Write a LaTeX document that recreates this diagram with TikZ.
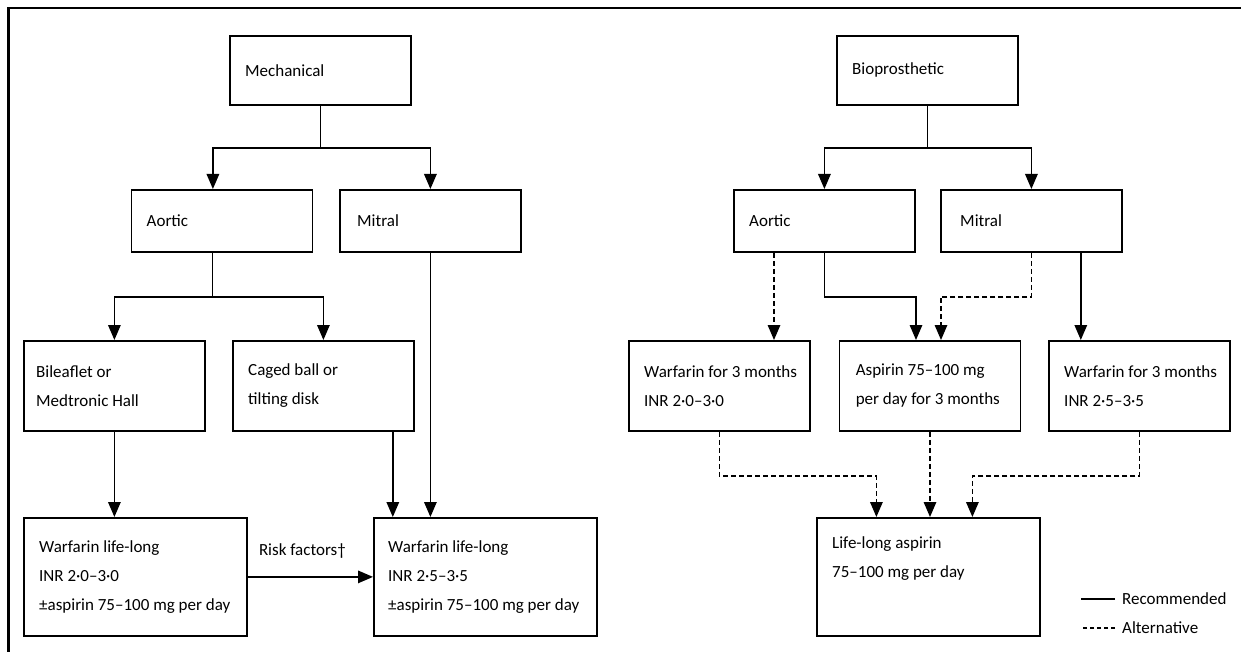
\documentclass[tikz,border=0pt]{standalone}
\usepackage{fontspec}
\setmainfont{Carlito}
\usepackage{tikz}
\usetikzlibrary{arrows.meta}

\begin{document}
\begin{tikzpicture}[x=1pt,y=-1pt,
        box/.style={draw,line width=1.8pt,minimum width=181pt,inner sep=0pt,anchor=north west},
        wbox/.style={box,minimum width=223pt,minimum height=118pt},
        txt/.style={anchor=west,align=left,inner sep=0pt,font=\fontsize{17}{29}\selectfont},
        lbl/.style={inner sep=0pt,font=\fontsize{17}{29}\selectfont},
        line/.style={line width=1.5pt},
        arr/.style={line,-{Triangle[length=15pt,width=12.5pt]}},
        alt/.style={arr,dash pattern=on 5pt off 3pt}]
        \useasboundingbox (0,0) rectangle (1241,652);

        % Frame
        \draw[line width=2.5pt] (8.7,652) -- (8.7,8) -- (1241,8);

        % Mechanical valves
        \node[box,minimum height=69pt] (mech) at (229,35) {};
        \node[box,minimum height=62pt] (maort) at (130.5,189) {};
        \node[box,minimum height=62pt] (mmitr) at (339,189) {};
        \node[box,minimum height=90pt] (bilf) at (23,340) {};
        \node[box,minimum height=90pt] (caged) at (232,340) {};
        \node[wbox] (mwarfa) at (23,517) {};
        \node[wbox] (mwarfb) at (373,517) {};

        \node[txt] (mecht) at ([xshift=16pt]mech.west) {Mechanical};
        \node[txt] (maortt) at ([xshift=16pt]maort.west) {Aortic};
        \node[txt] (mmitrt) at ([xshift=18pt]mmitr.west) {Mitral};
        \node[txt] (bilft) at ([xshift=13pt]bilf.west) {Bileaflet or\\Medtronic Hall};
        \node[txt] (cagedt) at ([xshift=16pt]caged.west) {Caged ball or\\tilting disk};
        \node[txt] (mwarfat) at ([xshift=16pt]mwarfa.west) {Warfarin life-long\\INR 2·0–3·0\\±aspirin 75–100 mg per day};
        \node[txt] (mwarfbt) at ([xshift=15pt]mwarfb.west) {Warfarin life-long\\INR 2·5–3·5\\±aspirin 75–100 mg per day};

        \draw[line] (mech.south) -- ++(0,42) coordinate (mj);
        \draw[arr] (mj) -| ([xshift=-9pt]maort.north);
        \draw[arr] (mj) -| (mmitr.north);
        \draw[line,line width=1.1pt] ([xshift=-9pt]maort.south) -- ++(0,44) coordinate (aj);
        \draw[arr] (aj) -| (bilf.north);
        \draw[arr] (aj) -| (caged.north);
        \draw[arr] (mmitr.south) -- (mmitr.south |- mwarfb.north);
        \draw[arr] (bilf.south) -- (bilf.south |- mwarfa.north);
        \coordinate (cg) at ([xshift=-22pt]caged.south east);
        \draw[arr] (cg) -- (cg |- mwarfb.north);
        \draw[arr] (mwarfa.east) -- (mwarfb.west)
            node[lbl,midway,above=18pt,xshift=-8pt] (risk) {Risk factors†};

        % Bioprosthetic valves
        \node[box,minimum height=69pt] (bio) at (836,35) {};
        \node[box,minimum height=62pt] (baort) at (733,189) {};
        \node[box,minimum height=62pt] (bmitr) at (940,189) {};
        \node[box,minimum height=90pt] (bwarfa) at (628,340) {};
        \node[box,minimum height=90pt] (aspir) at (838.6,340) {};
        \node[box,minimum height=90pt] (bwarfb) at (1048,340) {};
        \node[wbox] (life) at (816,517) {};

        \node[txt] (biot) at ([xshift=16pt]bio.west) {Bioprosthetic};
        \node[txt] (baortt) at ([xshift=16pt]baort.west) {Aortic};
        \node[txt] (bmitrt) at ([xshift=20pt]bmitr.west) {Mitral};
        \node[txt] (bwarfat) at ([xshift=16pt]bwarfa.west) {Warfarin for 3 months\\INR 2·0–3·0};
        \node[txt] (aspirt) at ([xshift=17pt]aspir.west) {Aspirin 75–100 mg\\per day for 3 months};
        \node[txt] (bwarfbt) at ([xshift=16pt]bwarfb.west) {Warfarin for 3 months\\INR 2·5–3·5};
        \node[txt] (lifet) at ([xshift=16pt,yshift=18pt]life.west) {Life-long aspirin\\75–100 mg per day};

        \draw[line] (bio.south) -- ++(0,42) coordinate (bj);
        \draw[arr] (bj) -| (baort.north);
        \draw[arr] (bj) -| (bmitr.north);
        \coordinate (ba) at ([xshift=41pt]baort.south west);
        \draw[alt] (ba) -- (ba |- bwarfa.north);
        \draw[arr] (baort.south) -- ++(0,44) -| ([xshift=-14pt]aspir.north);
        \draw[alt] (bmitr.south) -- ++(0,44) -| ([xshift=11pt]aspir.north);
        \coordinate (bm) at ([xshift=-42pt]bmitr.south east);
        \draw[arr] (bm) -- (bm |- bwarfb.north);
        \draw[alt] (bwarfa.south) -- ++(0,44) -| ([xshift=-52pt]life.north);
        \draw[alt] (aspir.south) -- (aspir.south |- life.north);
        \draw[alt] (bwarfb.south) -- ++(0,44) -| ([xshift=44pt]life.north);

        % Legend
        \node[lbl,anchor=west] (rec) at (1122,599) {Recommended};
        \node[lbl,anchor=west] (altn) at (1122,628) {Alternative};
        \draw[line] ([xshift=-7pt]rec.west) -- ++(-34,0);
        \draw[line,dash pattern=on 4pt off 3pt] ([xshift=-7pt]altn.west) -- ++(-34,0);
    \end{tikzpicture}
\end{document}
